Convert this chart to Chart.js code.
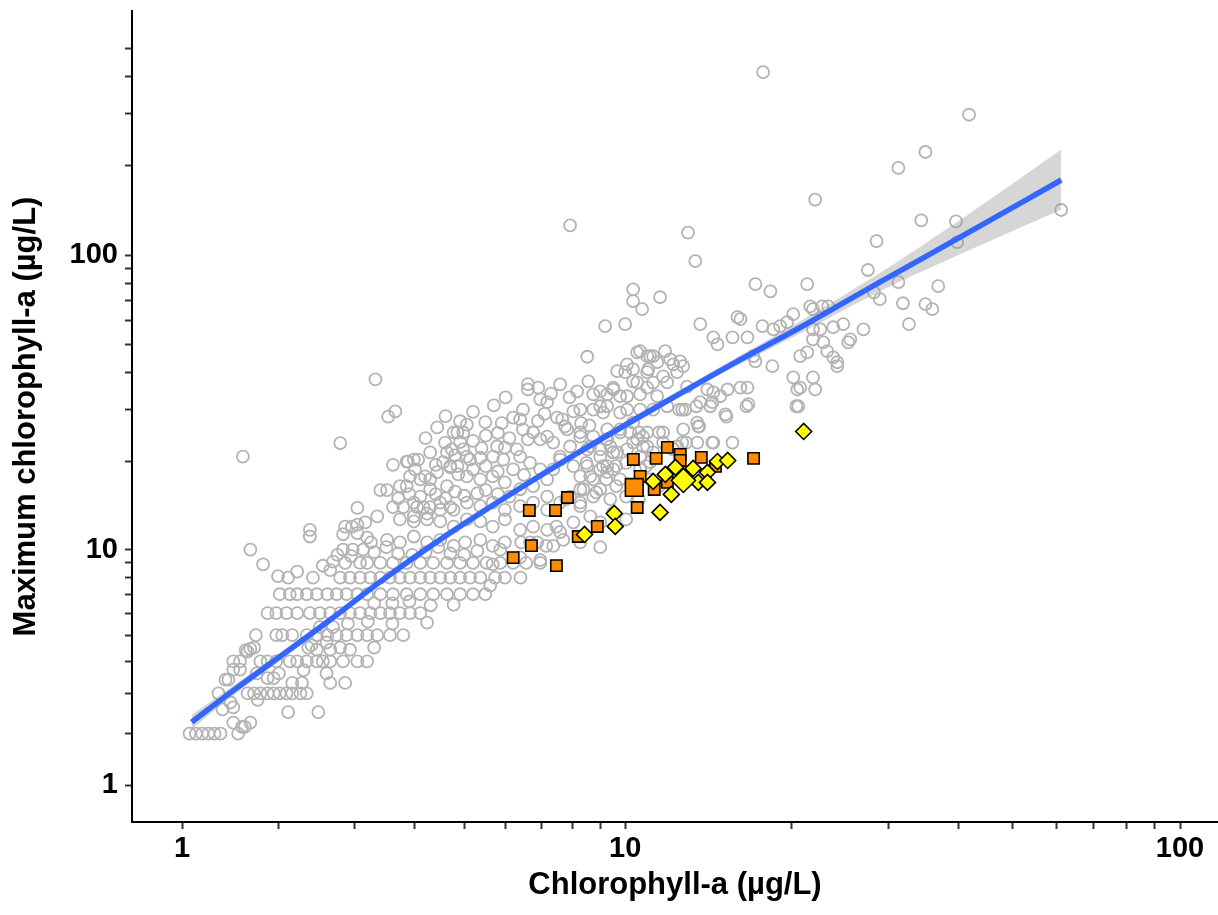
<!DOCTYPE html>
<html>
<head>
<meta charset="utf-8">
<script src="https://cdn.jsdelivr.net/npm/chart.js@4.4.1/dist/chart.umd.min.js"></script>
<style>
  html, body { margin: 0; padding: 0; background: #fff; }
  canvas { display: block; }
</style>
</head>
<body>
<canvas id="chart" width="1218" height="915"></canvas>
<script>
const lakesLow = [
  [1.07,2],[1.13,2],[1.19,2],[1.25,2],[1.31,2],[1.37,2],[1.55,2],
  [1.62,2.15],[1.68,2.25],[1.50,2.25],[1.59,2.15],
  [1.47,2.75],[1.39,2.57],[1.50,2.62],[1.35,3.0],[1.45,3.4],[1.76,2.82],
  [2.11,2.5],[2.49,2.5],
  [1.65,3],[1.72,3],[1.79,3],[1.87,3],[1.94,3],[2.01,3],[2.09,3],[2.16,3],[2.26,3],[2.34,3],
  [2.16,3.3],[2.28,3.3],[2.65,3.3],[2.86,3.3],[1.87,3.45],[1.94,3.45],[1.50,3.72],[1.57,3.72],[1.42,3.4],
  [1.75,3.6],[2.0,3.6],[2.3,3.7],[2.6,3.6],
  [1.50,4],[1.57,4],[1.79,4],[1.87,4],[1.97,4],[2.13,4],[2.22,4],[2.34,4],[2.47,4],[2.55,4],[2.65,4],[2.83,4],[3.04,4],[3.19,4],
  [1.65,4.35],[1.72,4.5],[1.68,4.45],[1.63,4.4],[2.93,4.42],[2.65,4.42],[2.79,4.5],[2.36,4.5],[2.47,4.42],
  [2.4,4.6],[2.6,4.7],[3.3,4.5],
  [1.74,5],[1.97,5],[2.04,5],[2.16,5],[2.34,5],[2.47,5],[2.61,5],[2.74,5],[2.88,5],[3.04,5],[3.19,5],[3.35,5],[3.56,5],[3.79,5],
  [2.51,5.35],[2.69,5.35],[4.23,5.55],[2.9,5.5],[3.2,5.6],[3.6,5.5],
  [1.87,6],[1.97,6],[2.09,6],[2.22,6],[2.38,6],[2.51,6],[2.65,6],[2.79,6],[2.93,6],[3.08,6],[3.24,6],[3.40,6],[3.56,6],[3.73,6],[3.91,6],[4.10,6],[4.77,6.43],
  [3.3,6.5],[3.6,6.5],[3.9,6.6],[4.3,6.4],
  [2.01,7],[2.13,7],[2.22,7],[2.34,7],[2.47,7],[2.61,7],[2.74,7],[2.88,7],[3.04,7],[3.19,7],[3.40,7],[3.61,7],[3.85,7],[4.10,7],[4.35,7],[4.63,7],[4.91,7],[5.20,7],[5.49,7],
  [1.99,8.1],[2.11,8],[2.22,8.4],[2.42,8],[2.65,8.5],[2.79,8],[2.93,8],[3.08,8],[3.24,8],[3.40,8],[3.56,8],[3.73,8],[3.91,8],[4.10,8],[4.29,8],[4.49,8],[4.70,8],[4.91,8],[5.13,8],[5.37,8],[5.73,8],[5.98,8],[6.40,8],
  [1.82,8.9],[2.69,9.1],[2.86,9],[3.08,9],[3.19,9],[3.40,9],[3.61,9],[3.85,9],[4.10,9],[4.35,9],[4.63,9],[4.91,9],[5.20,9],[5.52,9],[5.86,9],[6.20,9],[6.56,9],[6.97,9],
  [5.67,8.9],[5.61,7.5],[6.39,9.4],[6.97,9.2],[2.55,8.8]
];

const lakesMid = [
  [1.68,10],[2.38,11.7],[2.38,11.1],[2.83,10],[2.97,10],[3.13,10],
  [2.75,9.6],[2.95,9.5],[3.3,9.8],[3.5,10.2],[3.25,10.6],[3.7,9.7],[3.95,9.6],[4.2,9.8],[4.45,10.2],[4.7,9.7],[5.0,9.6],[5.3,9.9],
  [2.86,12],[2.96,12],[3.04,12.2],[3.16,12.4],[2.83,11.3],[3.04,11.4],[3.19,11],
  [3.04,13.9],[3.35,13],[3.40,16],[3.51,16],
  [3.61,14],[3.79,14],[4.04,14],[4.16,14],[4.29,14],[3.98,13],[4.23,13.3],[4.49,13.7],[4.70,14],
  [3.7,15],[3.9,15.5],[4.1,15.2],[4.4,15.5],[4.6,15],[4.8,15.8],[5.0,15.3],[5.3,15.6],[5.5,16],[5.8,15.5],[6.1,15.2],
  [3.61,19.5],[3.87,20],[3.98,20.3],[4.06,20.3],[3.91,17.8],[4.19,17.8],[4.29,17.4],[4.43,18.4],[3.85,16.5],
  [4.0,18.8],[4.4,19.5],[4.8,21],[5.2,18.8],[5.5,19.3],[5.8,18.5],[6.2,18.8],[6.5,18],
  [4.59,23.2],[4.73,22],[4.29,21.5],[3.85,20],[4.55,19.9],[4.70,19.3],[4.85,19.3],
  [5.13,20.3],[5.37,20.6],[5.68,20.8],[5.94,20.3],[5.78,22.5],[5.98,22.3],
  [5.2,23.5],[5.5,24.5],[5.8,25],[6.1,24],[6.3,22],[5.4,22.2],[4.2,24],
  [4.91,27.4],[5.06,26.7],[5.49,27.2],[4.85,25.1],[4.98,25.1],[4.43,26.1],[3.53,28.4],[3.65,29.6],[3.32,38],[2.79,23.1],[1.60,20.8],
  [4.6,28.5],[5.2,29.5],[5.7,31],[6.0,33],[5.9,27],[6.9,27.5],[7.1,29],[7.3,34],[7.9,33],[8.3,27],[8.6,26.5],
  [4.91,23.3],[4.98,22],[5.06,20.8],[4.77,25.1],[4.63,21.5],[4.70,19.1],[4.87,18.1],
  [4.10,17.4],[4.29,16.1],[4.63,16.5],[3.73,16.5],
  [3.98,14.5],[4.49,14.5],[4.77,13.7],[5.06,14.5],[5.37,14.1],[5.67,14.5],[5.98,13.7],[6.39,14.1],[6.76,14.5],[7.18,13.7],[7.59,14.5],
  [3.73,12.7],[3.98,12.5],[4.23,12.7],[4.49,12.5],[4.77,12],[5.06,12.7],[5.37,12.5],[5.67,12],[5.98,12.7],[6.39,11.7],[6.76,12],[7.18,11.7],[7.59,11.5],
  [3.51,10.8],[3.73,10.6],[3.98,11.1],[4.23,10.6],[4.49,10.8],[4.77,10.3],[5.02,10.6],[5.37,10.8],[5.67,10.3],[5.98,10.6],[6.42,10.6],[6.88,10.6],[7.37,10.3],
  [5.86,10],[7.15,10.3],[6.67,10.6],
  [7.47,12],[7.69,10.8],[8.27,10.6],[9.0,10.2],[8.03,12.4],[8.63,13],[9.51,13.4],[10.04,12.7],[9.0,12.4],
  [5.06,17.8],[5.37,17.4],[5.67,17.8],[5.98,17],[6.39,16.1],[6.76,16.5],[7.18,15.2],
  [6.39,20.8],[6.67,19.8],[6.61,23.8],
  [7.79,14.9],[8.27,14.1],[8.27,16.1],[8.85,15.7],[9.39,14.9],[8.63,17.8],[9.23,17.4],[9.63,16.5],[8.03,19.3],[8.49,19.8],[9.11,19.3],[9.63,19.3],[10.04,19.8],
  [7.59,20.8],[7.92,22.5],[8.63,22.5],[9.0,20.8],[9.51,21.5],[8.27,24.3],[9.23,23.8],[9.79,25.1],[10.34,23.2],[10.6,25.1],[11.53,25.1],[12.24,22],[12.92,23.2],
  [13.64,26.3],[14.41,23.2],[15.67,23.2],[15.28,28.4],[12.55,30],[13.48,30.8],[14.41,31.8],[16.61,30.8],[20.44,30.8],
  [11.11,17.4],[11.53,16.5],[10.47,16.5],[10.6,14.9],[10.04,15.2],[10.92,19.3],
  [6.61,36.6],[6.91,35.6],[6.61,35.1],[6.97,32.5],[7.18,31.8],[6.47,30],[6.20,28.2],[6.39,27.8],[6.47,25.7],[7.59,36.5],[8.52,45.3],
  [8.16,34.6],[8.56,37.4],[8.74,33.8],[9.0,34.6],[9.27,33.8],[9.51,35.6],[9.79,33.3],
  [7.49,28.2],[7.66,27.8],[7.75,26.3],[8.03,29.6],[8.27,30],[8.74,30],[9.0,30.8],[9.11,29.3],
  [10.21,25.1],[10.52,23.8],[10.78,24.3],[10.97,22.5],[11.25,21.5],[10.65,20.8],
  [8.74,24.3],[9.27,23.8],[8.52,22],[9.0,22],[9.51,21.5],
  [7.82,25.7],[8.27,25.1],[7.18,24.3],[7.37,23.2],[6.76,25.1],[6.97,23.8],
  [8.52,19.3],[9.0,18.8],[8.27,17.8],[8.74,17.4],[9.27,18.4],
  [7.59,20.3],[7.37,18.8],[6.97,18.8],[7.18,17.4],
  [8.38,16.1],[7.92,15.2],[8.27,14.5],[8.74,15.2],[9.0,16.1]
];

const lakesHigh = [
  [13.02,119],[13.42,95.4],[10.34,76.6],[10.34,69.8],[10.74,65.6],[11.58,72],[9.19,57.5],[10.0,58.4],
  [17.24,79.7],[18.35,75.4],[21.38,79.7],
  [13.70,58.4],[14.47,52.7],[14.72,49.9],[15.67,52.7],[16.0,61.7],[16.2,60.7],[16.68,52.7],[17.75,57.5],[18.58,56.1],[19.11,57.5],[19.68,59.3],[20.18,63.1],
  [21.65,67.1],[21.9,65.6],[22.76,67.1],[23.33,67.1],
  [21.9,56.1],[22.57,56.1],[23.82,57],[24.83,58.4],
  [21.9,51.9],[22.86,50.7],[25.35,50.7],
  [20.77,45.5],[21.38,46.9],[23.23,47.3],[23.82,45.1],[24.22,43.4],[24.22,42.1],
  [18.5,42.1],[17.24,43.7],[17.1,45.5],
  [20.18,38.6],[20.77,35.6],[20.52,35.1],[21.9,38.6],[22.1,35.1],[20.6,30.8],
  [16.2,35.6],[16.68,35.6],[16.75,31.3],[15.22,28.9],[13.59,26.3],
  [14.47,23.2],[12.71,23.2],[13.53,23.2],
  [10.65,47.3],[11.11,45.5],[11.83,47.3],[12.08,44.4],[12.24,42.7],[12.6,43.7],[12.76,42.1],[12.44,40.2],
  [9.67,40.5],[10.08,42.7],[10.52,46.9],[10.97,45.5],[11.25,45.5],[11.44,43.4],[10.97,40.2],[10.34,37.4],[10.97,35.6],[11.25,37],[10.65,33.8],[11.44,33.3],
  [10.0,40.2],[10.34,41.1],[11.02,41.1],[11.73,38.9],
  [9.51,35.1],[10.08,33.3],[10.52,37.1],[11.93,37.1],[12.97,35.9],[14.11,35.1],[14.47,34.3],[15.35,35.1],
  [9.27,30.8],[9.79,29.3],[10.08,30],[10.65,30],[11.25,30],[11.93,30.8],[12.71,30],[12.87,30],[13.70,31.8],[14.29,30.8],[14.9,33.3],
  [9.27,25.7],[9.79,25.7],[10.34,27.1],[10.97,25.1],[11.73,25.1],[12.76,25.7],[13.53,27.1],
  [9.39,22.5],[9.67,21.5],[10.08,22],[10.78,22.5],[11.73,23.2],[12.44,22.5],
  [9.27,19.3],[9.51,18.8],[9.79,17.4],[10.65,18.8],[11.11,19.9],
  [17.8,415],[7.92,126],[22.1,154],[31.2,197],[34.9,223],[41.8,298],[34.3,131],[39.6,130],[39.8,110.6],
  [28.5,111.5],[27.5,89],[31.2,81],[36.8,78.5],[28.2,74.8],[28.9,70.9],[31.8,68.7],[34.9,68.2],[35.9,65.6],
  [27.0,56.1],[32.6,58.4],[61.2,142],[25.56,51.9]
];

// highlighted sites
const orangeSites = [
  [6.20,9.39],[6.71,10.33],[6.65,13.63],[7.44,13.63],[7.83,15.09],[7.47,8.81],[8.20,11.1],[8.89,12.02],
  [10.35,20.33],[10.52,13.95],[10.65,17.81],[11.39,20.5],[11.94,22.34],[12.6,21.15],[12.6,20.17],
  [13.76,20.66],[17.11,20.5],[11.30,16.07],[11.94,16.99],[14.6,19.26]
];
const orangeMean = [[10.39,16.33]];
const yellowSites = [
  [8.42,11.28],[9.55,13.31],[9.59,12.02],[11.58,13.42],[12.14,15.46],[11.25,17.12],[11.84,18.09],
  [12.35,19.1],[13.3,18.95],[13.59,16.99],[14.12,18.38],[14.12,16.99],[14.72,20.0],[15.36,20.17],[21.07,25.3]
];
const yellowMean = [[12.77,17.25]];

// smooth fit and its confidence band
const fitX = [1.09, 1.47, 2.01, 2.65, 3.40, 4.64, 6.20, 8.27, 11.58, 15.75, 20.8, 28.9, 40.3, 61.2];
const fitY = [2.26, 3.02, 4.16, 5.68, 7.75, 11.27, 15.7, 21.64, 31.1, 43.05, 57.0, 81.0, 114.9, 179.3];
const bandLow = [2.10, 2.88, 4.01, 5.53, 7.54, 10.9, 15.27, 21.05, 30.3, 41.7, 54.4, 75.5, 100.7, 142.3];
const bandHigh = [2.44, 3.16, 4.31, 5.85, 7.97, 11.6, 16.13, 22.25, 32.0, 44.4, 59.8, 86.9, 131.3, 227.2];

// axis ticks
const xTicks = [1, 2, 3, 4, 5, 6, 7, 8, 9, 10, 20, 30, 40, 50, 60, 70, 80, 90, 100];
const yTicks = [1, 2, 3, 4, 5, 6, 7, 8, 9, 10, 20, 30, 40, 50, 60, 70, 80, 90, 100, 200, 300, 400, 500];
const tickLabels = [1, 10, 100];

// ggplot-style pseudo log axis: asinh(v/2) / ln(10)
const toT = v => Math.asinh(v / 2) / Math.LN10;
const fromT = t => 2 * Math.sinh(t * Math.LN10);

class PseudoLogScale extends Chart.Scale {
  parse(raw, index) {
    return Chart.LinearScale.prototype.parse.call(this, raw, index);
  }
  determineDataLimits() {
    const { min, max } = this.getMinMax(true);
    this.min = min;
    this.max = max;
  }
  buildTicks() {
    return (this.options.tickValues || []).map(v => ({ value: v }));
  }
  configure() {
    super.configure();
    this._t0 = toT(this.min);
    this._tRange = toT(this.max) - this._t0;
  }
  getLabelForValue(v) {
    return String(v);
  }
  getPixelForValue(v) {
    return this.getPixelForDecimal((toT(v) - this._t0) / this._tRange);
  }
  getValueForPixel(p) {
    return fromT(this._t0 + this.getDecimalForPixel(p) * this._tRange);
  }
}
PseudoLogScale.id = 'pseudolog';
PseudoLogScale.defaults = {};
Chart.register(PseudoLogScale);

const toXY = arr => arr.map(([x, y]) => ({ x, y }));
const zipXY = (xs, ys) => xs.map((x, i) => ({ x, y: ys[i] }));

const family = "'Liberation Sans', Arial, sans-serif";
const tickFont = { family, size: 29, weight: 'bold' };
const titleFont = { family, size: 31, weight: 'bold' };
const labelTick = v => (tickLabels.includes(v) ? String(v) : '');

new Chart(document.getElementById('chart'), {
  type: 'scatter',
  data: {
    datasets: [
      {
        data: toXY(yellowMean), order: 0,
        pointStyle: 'rectRot', pointRadius: 12,
        backgroundColor: '#FFFF00', borderColor: '#000', borderWidth: 1.6
      },
      {
        data: toXY(yellowSites), order: 1,
        pointStyle: 'rectRot', pointRadius: 8,
        backgroundColor: '#FFFF00', borderColor: '#000', borderWidth: 1.6
      },
      {
        data: toXY(orangeMean), order: 2,
        pointStyle: 'rect', pointRadius: 12.5,
        backgroundColor: '#FF8C00', borderColor: '#000', borderWidth: 1.6
      },
      {
        data: toXY(orangeSites), order: 3,
        pointStyle: 'rect', pointRadius: 8,
        backgroundColor: '#FF8C00', borderColor: '#000', borderWidth: 1.6
      },
      {
        data: zipXY(fitX, fitY), order: 4,
        showLine: true, pointRadius: 0, cubicInterpolationMode: 'monotone',
        borderColor: '#3366FF', borderWidth: 5.5, fill: false
      },
      {
        data: zipXY(fitX, bandHigh), order: 5,
        showLine: true, pointRadius: 0, cubicInterpolationMode: 'monotone',
        borderColor: 'rgba(0,0,0,0)', borderWidth: 0,
        backgroundColor: 'rgba(153,153,153,0.4)', fill: '+1'
      },
      {
        data: zipXY(fitX, bandLow), order: 6,
        showLine: true, pointRadius: 0, cubicInterpolationMode: 'monotone',
        borderColor: 'rgba(0,0,0,0)', borderWidth: 0, fill: false
      },
      {
        data: toXY(lakesLow.concat(lakesMid, lakesHigh)), order: 7,
        pointStyle: 'circle', pointRadius: 6,
        backgroundColor: 'rgba(0,0,0,0)', borderColor: '#b3b3b3', borderWidth: 1.8
      }
    ]
  },
  options: {
    responsive: false,
    animation: false,
    devicePixelRatio: 1,
    events: [],
    layout: { autoPadding: false, padding: { top: 11, right: 0, left: 0, bottom: 0 } },
    plugins: {
      legend: { display: false },
      tooltip: { enabled: false }
    },
    scales: {
      x: {
        type: 'pseudolog',
        min: 0.556,
        max: 117,
        tickValues: xTicks,
        afterFit: s => { s.height = 93; s.paddingLeft = 0; s.paddingRight = 0; },
        border: { display: true, color: '#000', width: 2 },
        grid: { drawOnChartArea: false, drawTicks: true, tickLength: 7, tickWidth: 2, tickColor: '#333' },
        ticks: { autoSkip: false, maxRotation: 0, padding: 3, color: '#000', font: tickFont, callback: labelTick },
        title: {
          display: true, text: 'Chlorophyll-a (µg/L)', color: '#000', font: titleFont,
          padding: { top: 0, bottom: 11 }
        }
      },
      y: {
        type: 'pseudolog',
        min: 0.389,
        max: 668,
        tickValues: yTicks,
        afterFit: s => { s.width = 132; s.paddingTop = 0; s.paddingBottom = 0; },
        border: { display: true, color: '#000', width: 2 },
        grid: { drawOnChartArea: false, drawTicks: true, tickLength: 7, tickWidth: 2, tickColor: '#333' },
        ticks: { autoSkip: false, padding: 7, color: '#000', font: tickFont, callback: labelTick },
        title: {
          display: true, text: 'Maximum chlorophyll-a (µg/L)', color: '#000', font: titleFont,
          padding: { top: 8, bottom: 0 }
        }
      }
    }
  }
});
</script>
</body>
</html>
